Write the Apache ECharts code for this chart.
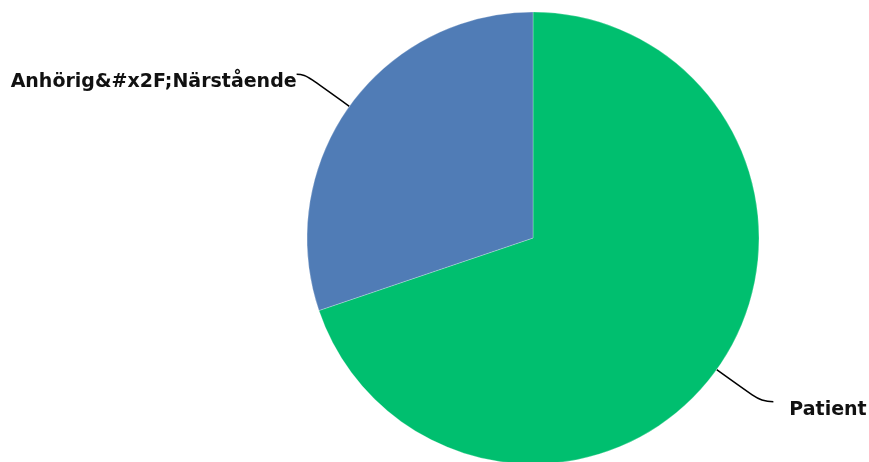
<!DOCTYPE html>
<html><head><meta charset="utf-8">
<script src="https://cdn.jsdelivr.net/npm/echarts@6/dist/echarts.min.js"></script>
<style>html,body{margin:0;padding:0;background:#fff}#c{width:869px;height:462px}</style>
</head><body><div id="c"></div>
<script>
const categories = ["Patient", "Anhörig&#x2F;Närstående"];
const values = [69.8, 30.2];
const colors = ["#00BF6F", "#507CB6"];

const chart = echarts.init(document.getElementById('c'));
chart.setOption({
  animation: false,
  series: [{
    type: 'pie',
    center: [533, 238],
    radius: 226,
    startAngle: 90,
    clockwise: true,
    data: categories.map((c, i) => ({
      name: c, value: values[i], itemStyle: { color: colors[i] },
      label: { distanceToLabelLine: i === 0 ? 16 : 0 },
      labelLine: { length2: i === 0 ? 12 : 8 }
    })),
    itemStyle: { borderColor: 'rgba(255,255,255,0.5)', borderWidth: 0.5 },
    label: {
      show: true, position: 'outside', overflow: 'none', edgeDistance: 0,
      formatter: '{s|}\n{t|{b}}',
      rich: {
        s: { height: 16, fontSize: 1 },
        t: { color: '#111', fontFamily: 'DejaVu Sans', fontWeight: 'bold', fontSize: 19, lineHeight: 22 }
      }
    },
    labelLine: { show: true, length: 55, length2: 12, smooth: 0.5, lineStyle: { color: '#000', width: 1.5 } }
  }]
});
</script></body></html>
